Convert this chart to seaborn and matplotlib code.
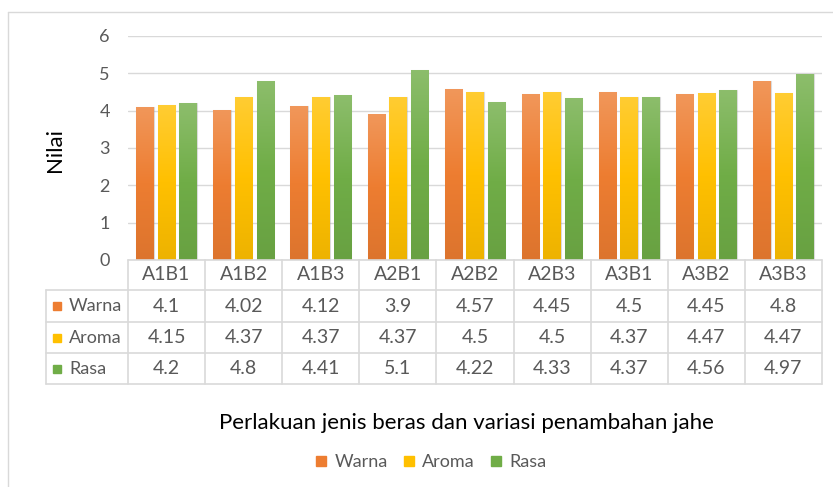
import numpy as np
import pandas as pd
import matplotlib
matplotlib.use("Agg")
import matplotlib.pyplot as plt
import seaborn as sns
from matplotlib.colors import LinearSegmentedColormap, to_rgb
from matplotlib.lines import Line2D

# data
categories = ["A1B1", "A1B2", "A1B3", "A2B1", "A2B2", "A2B3", "A3B1", "A3B2", "A3B3"]
warna = [4.1, 4.02, 4.12, 3.9, 4.57, 4.45, 4.5, 4.45, 4.8]
aroma = [4.15, 4.37, 4.37, 4.37, 4.5, 4.5, 4.37, 4.47, 4.47]
rasa = [4.2, 4.8, 4.41, 5.1, 4.22, 4.33, 4.37, 4.56, 4.97]
series = ["Warna", "Aroma", "Rasa"]
y_ticks = [0, 1, 2, 3, 4, 5, 6]

colors = {"Warna": "#ED7D31", "Aroma": "#FFC000", "Rasa": "#70AD47"}
grey_text = "#595959"
line_col = "#D9D9D9"

df = pd.DataFrame({"Perlakuan": categories * 3,
                   "Atribut": [s for s in series for _ in categories],
                   "Nilai": warna + aroma + rasa})

sns.set_style("white")
plt.rcParams['font.family'] = ['Lato', 'DejaVu Sans']

W, H = 833, 487
fig = plt.figure(figsize=(W / 100, H / 100), dpi=100)
ax = fig.add_axes([128 / W, 1 - 260 / H, 694 / W, 224 / H])

sns.barplot(data=df, x="Perlakuan", y="Nilai", hue="Atribut", palette=colors,
            width=0.84, gap=0.19, ax=ax, legend=False, errorbar=None, saturation=1)


def mix(c, other, t):
    c = np.array(to_rgb(c)); o = np.array(to_rgb(other))
    return tuple(c * (1 - t) + o * t)


# office style vertical gradient on every bar
grad = np.linspace(0, 1, 256).reshape(-1, 1)
for bar in list(ax.patches):
    h = bar.get_height()
    if h <= 0:
        continue
    base = bar.get_facecolor()[:3]
    cmap = LinearSegmentedColormap.from_list(
        "g", [mix(base, "black", 0.07), base, mix(base, "white", 0.2)])
    x0, y0, w = bar.get_x(), bar.get_y(), bar.get_width()
    im = ax.imshow(grad, extent=[x0, x0 + w, y0, y0 + h], origin="lower",
                   cmap=cmap, aspect="auto", zorder=2)
    im.set_clip_path(bar)
    bar.set_facecolor("none")
    bar.set_edgecolor((0.6, 0.6, 0.6, 0.35))
    bar.set_linewidth(0.8)

ax.set_xlim(-0.5, len(categories) - 0.5)
ax.set_ylim(0, 6)
ax.set_yticks(y_ticks)
ax.set_xticks([])
ax.set_xlabel("")
ax.set_ylabel("")
ax.yaxis.grid(True, color=line_col, lw=1)
ax.set_axisbelow(True)
for s in ax.spines.values():
    s.set_visible(False)
ax.tick_params(axis="y", length=0, pad=13, labelsize=13, labelcolor=grey_text)

# data table under the axis
trans = ax.get_xaxis_transform()
unit = 694 / len(categories)
left = -0.5 - 82 / unit
right = len(categories) - 0.5
rows_y = [0, -30 / 224, -62 / 224, -93 / 224, -124 / 224]
ax.plot([-0.5, right], [0, 0], transform=trans, color=line_col, lw=1.2, clip_on=False)
for yy in rows_y[1:]:
    ax.plot([left, right], [yy, yy], transform=trans, color=line_col, lw=1.2, clip_on=False)
for xx in np.arange(-0.5, right + 1, 1):
    ax.plot([xx, xx], [0, rows_y[-1]], transform=trans, color=line_col, lw=1.2, clip_on=False)
ax.plot([left, left], [rows_y[1], rows_y[-1]], transform=trans, color=line_col, lw=1.2, clip_on=False)

for i, c in enumerate(categories):
    ax.text(i, (rows_y[0] + rows_y[1]) / 2, c, transform=trans, ha="center", va="center",
            fontsize=14, color=grey_text)

for r, (name, vals) in enumerate(zip(series, [warna, aroma, rasa])):
    yc = (rows_y[r + 1] + rows_y[r + 2]) / 2
    ax.plot([-0.5 - 71 / unit], [yc], transform=trans, marker="s", ms=6,
            color=colors[name], clip_on=False)
    ax.text(-0.5 - 59 / unit, yc, name, transform=trans, ha="left", va="center",
            fontsize=13, color=grey_text)
    for i, v in enumerate(vals):
        ax.text(i, yc, f"{v:g}", transform=trans, ha="center", va="center",
                fontsize=14, color=grey_text)

fig.text(55 / W, 1 - 150 / H, "Nilai", rotation=90, ha="center", va="center",
         fontsize=16, color="black")
fig.text(466 / W, 1 - 423 / H, "Perlakuan jenis beras dan variasi penambahan jahe",
         ha="center", va="center", fontsize=16, color="black")

handles = [Line2D([], [], marker="s", ms=6.5, ls="none", color=colors[s]) for s in series]
fig.legend(handles, series, loc="center", bbox_to_anchor=(431 / W, 1 - 462 / H),
           ncol=3, frameon=False, fontsize=13, handlelength=0.6, handletextpad=0.45,
           columnspacing=0.85, labelcolor=grey_text)

# outer chart border
fig.add_artist(Line2D([8 / W, 8 / W], [0, 1 - 12 / H], transform=fig.transFigure,
                      color=line_col, lw=1))
fig.add_artist(Line2D([8 / W, 1], [1 - 12 / H, 1 - 12 / H], transform=fig.transFigure,
                      color=line_col, lw=1))

fig.savefig("out.png", dpi=100)
